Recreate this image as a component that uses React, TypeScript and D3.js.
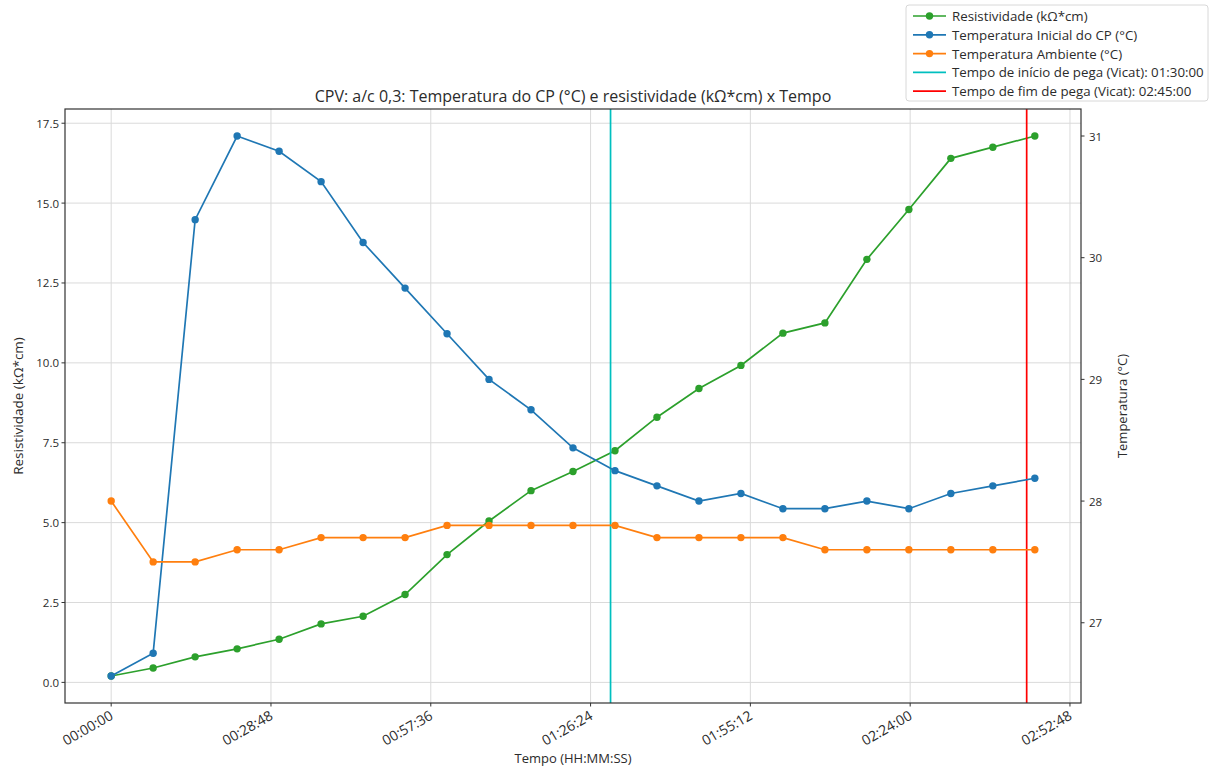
import React, { useEffect, useRef } from "react";
import * as d3 from "d3";

// readings every ~7.5 min
const times = [
  "00:00:00", "00:07:34", "00:15:08", "00:22:42", "00:30:16", "00:37:50",
  "00:45:24", "00:52:58", "01:00:32", "01:08:06", "01:15:40", "01:23:14",
  "01:30:48", "01:38:22", "01:45:56", "01:53:30", "02:01:04", "02:08:38",
  "02:16:12", "02:23:46", "02:31:20", "02:38:54", "02:46:28",
];
const resistividade = [
  0.2, 0.45, 0.8, 1.05, 1.35, 1.83, 2.07, 2.75, 4.0, 5.05, 6.0, 6.6, 7.25,
  8.3, 9.2, 9.92, 10.93, 11.25, 13.24, 14.8, 16.4, 16.75, 17.1,
];
const tempCP = [
  26.5625, 26.75, 30.3125, 31.0, 30.875, 30.625, 30.125, 29.75, 29.375, 29.0,
  28.75, 28.4375, 28.25, 28.125, 28.0, 28.0625, 27.9375, 27.9375, 28.0,
  27.9375, 28.0625, 28.125, 28.1875,
];
const tempAmbiente = [
  28.0, 27.5, 27.5, 27.6, 27.6, 27.7, 27.7, 27.7, 27.8, 27.8, 27.8, 27.8, 27.8,
  27.7, 27.7, 27.7, 27.7, 27.6, 27.6, 27.6, 27.6, 27.6, 27.6,
];
const inicioPega = "01:30:00";
const fimPega = "02:45:00";
const xTickLabels = [
  "00:00:00", "00:28:48", "00:57:36", "01:26:24", "01:55:12", "02:24:00", "02:52:48",
];
const leftTicks = [0, 2.5, 5, 7.5, 10, 12.5, 15, 17.5];
const rightTicks = [27, 28, 29, 30, 31];
const legendLabels = [
  "Resistividade (kΩ*cm)",
  "Temperatura Inicial do CP (°C)",
  "Temperatura Ambiente (°C)",
  "Tempo de início de pega (Vicat): 01:30:00",
  "Tempo de fim de pega (Vicat): 02:45:00",
];

const toSec = (s: string) => {
  const [h, m, ss] = s.split(":").map(Number);
  return h * 3600 + m * 60 + ss;
};

// matplotlib style 5% margins
const padded = (vals: number[]) => {
  const [a, b] = d3.extent(vals) as [number, number];
  const p = (b - a) * 0.05;
  return [a - p, b + p];
};

function createChart(node: SVGSVGElement) {
  const svg = d3.select(node);
  svg.selectAll("*").remove();
  const W = 1213, H = 769;
  const left = 65, right = 1081, top = 109, bottom = 703;
  const font = "'Open Sans', 'DejaVu Sans', sans-serif";
  const textColor = "#2b2b2b";

  const secs = times.map(toSec);
  const x = d3.scaleLinear().domain(padded(secs)).range([left, right]);
  const yL = d3.scaleLinear().domain(padded(resistividade)).range([bottom, top]);
  const yR = d3
    .scaleLinear()
    .domain(padded(tempCP.concat(tempAmbiente)))
    .range([bottom, top]);

  svg.attr("width", W).attr("height", H).style("font-family", font);
  svg.append("rect").attr("width", W).attr("height", H).attr("fill", "#fff");

  const xTicks = xTickLabels.map(toSec);

  // grid
  const grid = svg.append("g").attr("stroke", "#dadada").attr("stroke-width", 1);
  xTicks.forEach((t) => {
    grid.append("line").attr("x1", x(t)).attr("x2", x(t)).attr("y1", top).attr("y2", bottom);
  });
  leftTicks.forEach((t) => {
    grid.append("line").attr("x1", left).attr("x2", right).attr("y1", yL(t)).attr("y2", yL(t));
  });

  const series = [
    { vals: resistividade, y: yL, color: "#2ca02c" },
    { vals: tempCP, y: yR, color: "#1f77b4" },
    { vals: tempAmbiente, y: yR, color: "#ff7f0e" },
  ];

  const drawSeries = (s: (typeof series)[number]) => {
    const line = d3
      .line<number>()
      .x((_, i) => x(secs[i]))
      .y((d) => s.y(d));
    svg
      .append("path")
      .attr("d", line(s.vals))
      .attr("fill", "none")
      .attr("stroke", s.color)
      .attr("stroke-width", 1.7);
    svg
      .append("g")
      .selectAll("circle")
      .data(s.vals)
      .join("circle")
      .attr("cx", (_, i) => x(secs[i]))
      .attr("cy", (d) => s.y(d))
      .attr("r", 3.7)
      .attr("fill", s.color);
  };

  drawSeries(series[0]);

  // Vicat lines
  [
    { t: inicioPega, color: "#00bfbf" },
    { t: fimPega, color: "#ff0000" },
  ].forEach((v) => {
    svg
      .append("line")
      .attr("x1", x(toSec(v.t)))
      .attr("x2", x(toSec(v.t)))
      .attr("y1", top)
      .attr("y2", bottom)
      .attr("stroke", v.color)
      .attr("stroke-width", 1.7);
  });

  drawSeries(series[1]);
  drawSeries(series[2]);

  // frame
  svg
    .append("rect")
    .attr("x", left)
    .attr("y", top)
    .attr("width", right - left)
    .attr("height", bottom - top)
    .attr("fill", "none")
    .attr("stroke", "#333")
    .attr("stroke-width", 1.2);

  // x ticks
  const xg = svg.append("g");
  xTicks.forEach((t, i) => {
    const px = x(t);
    xg.append("line").attr("x1", px).attr("x2", px).attr("y1", bottom).attr("y2", bottom + 3.5).attr("stroke", "#333");
    xg.append("text")
      .attr("transform", `translate(${px - 3},${bottom + 5}) rotate(-30)`)
      .attr("text-anchor", "end")
      .attr("dominant-baseline", "hanging")
      .attr("font-size", 14)
      .attr("fill", textColor)
      .text(xTickLabels[i]);
  });

  // left ticks
  leftTicks.forEach((t) => {
    svg.append("line").attr("x1", left - 3.5).attr("x2", left).attr("y1", yL(t)).attr("y2", yL(t)).attr("stroke", "#333");
    svg.append("text")
      .attr("x", left - 6)
      .attr("y", yL(t))
      .attr("text-anchor", "end")
      .attr("dominant-baseline", "central")
      .attr("font-size", 11.5)
      .attr("fill", textColor)
      .text(t.toFixed(1));
  });

  // right ticks
  rightTicks.forEach((t) => {
    svg.append("line").attr("x1", right).attr("x2", right + 3.5).attr("y1", yR(t)).attr("y2", yR(t)).attr("stroke", "#333");
    svg.append("text")
      .attr("x", right + 8)
      .attr("y", yR(t))
      .attr("dominant-baseline", "central")
      .attr("font-size", 11.5)
      .attr("fill", textColor)
      .text(String(t));
  });

  // labels
  svg.append("text")
    .attr("x", (left + right) / 2)
    .attr("y", 102)
    .attr("text-anchor", "middle")
    .attr("font-size", 16)
    .attr("fill", textColor)
    .text("CPV: a/c 0,3: Temperatura do CP (°C) e resistividade (kΩ*cm) x Tempo");
  svg.append("text")
    .attr("x", (left + right) / 2)
    .attr("y", 763)
    .attr("text-anchor", "middle")
    .attr("font-size", 13)
    .attr("fill", textColor)
    .text("Tempo (HH:MM:SS)");
  svg.append("text")
    .attr("transform", `translate(23,${(top + bottom) / 2}) rotate(-90)`)
    .attr("text-anchor", "middle")
    .attr("font-size", 13.5)
    .attr("fill", textColor)
    .text("Resistividade (kΩ*cm)");
  svg.append("text")
    .attr("transform", `translate(1127,${(top + bottom) / 2}) rotate(-90)`)
    .attr("text-anchor", "middle")
    .attr("font-size", 13)
    .attr("fill", textColor)
    .text("Temperatura (°C)");

  // legend
  const lg = svg.append("g");
  lg.append("rect")
    .attr("x", 906)
    .attr("y", 5)
    .attr("width", 302)
    .attr("height", 96)
    .attr("rx", 3)
    .attr("fill", "#fff")
    .attr("stroke", "#d8d8d8");
  const legendColors = ["#2ca02c", "#1f77b4", "#ff7f0e", "#00bfbf", "#ff0000"];
  legendLabels.forEach((lab, i) => {
    const ly = 16 + i * 18.8;
    lg.append("line").attr("x1", 913).attr("x2", 946).attr("y1", ly).attr("y2", ly)
      .attr("stroke", legendColors[i]).attr("stroke-width", 1.7);
    if (i < 3) {
      lg.append("circle").attr("cx", 929.5).attr("cy", ly).attr("r", 3.7).attr("fill", legendColors[i]);
    }
    lg.append("text")
      .attr("x", 952)
      .attr("y", ly)
      .attr("dominant-baseline", "central")
      .attr("font-size", 13.3)
      .attr("fill", textColor)
      .text(lab);
  });
}

export default function App() {
  const ref = useRef<SVGSVGElement>(null);
  useEffect(() => {
    if (ref.current) createChart(ref.current);
  }, []);
  return (
    <div style={{ position: "absolute", left: 0, top: 0 }}>
      <svg ref={ref}></svg>
    </div>
  );
}
